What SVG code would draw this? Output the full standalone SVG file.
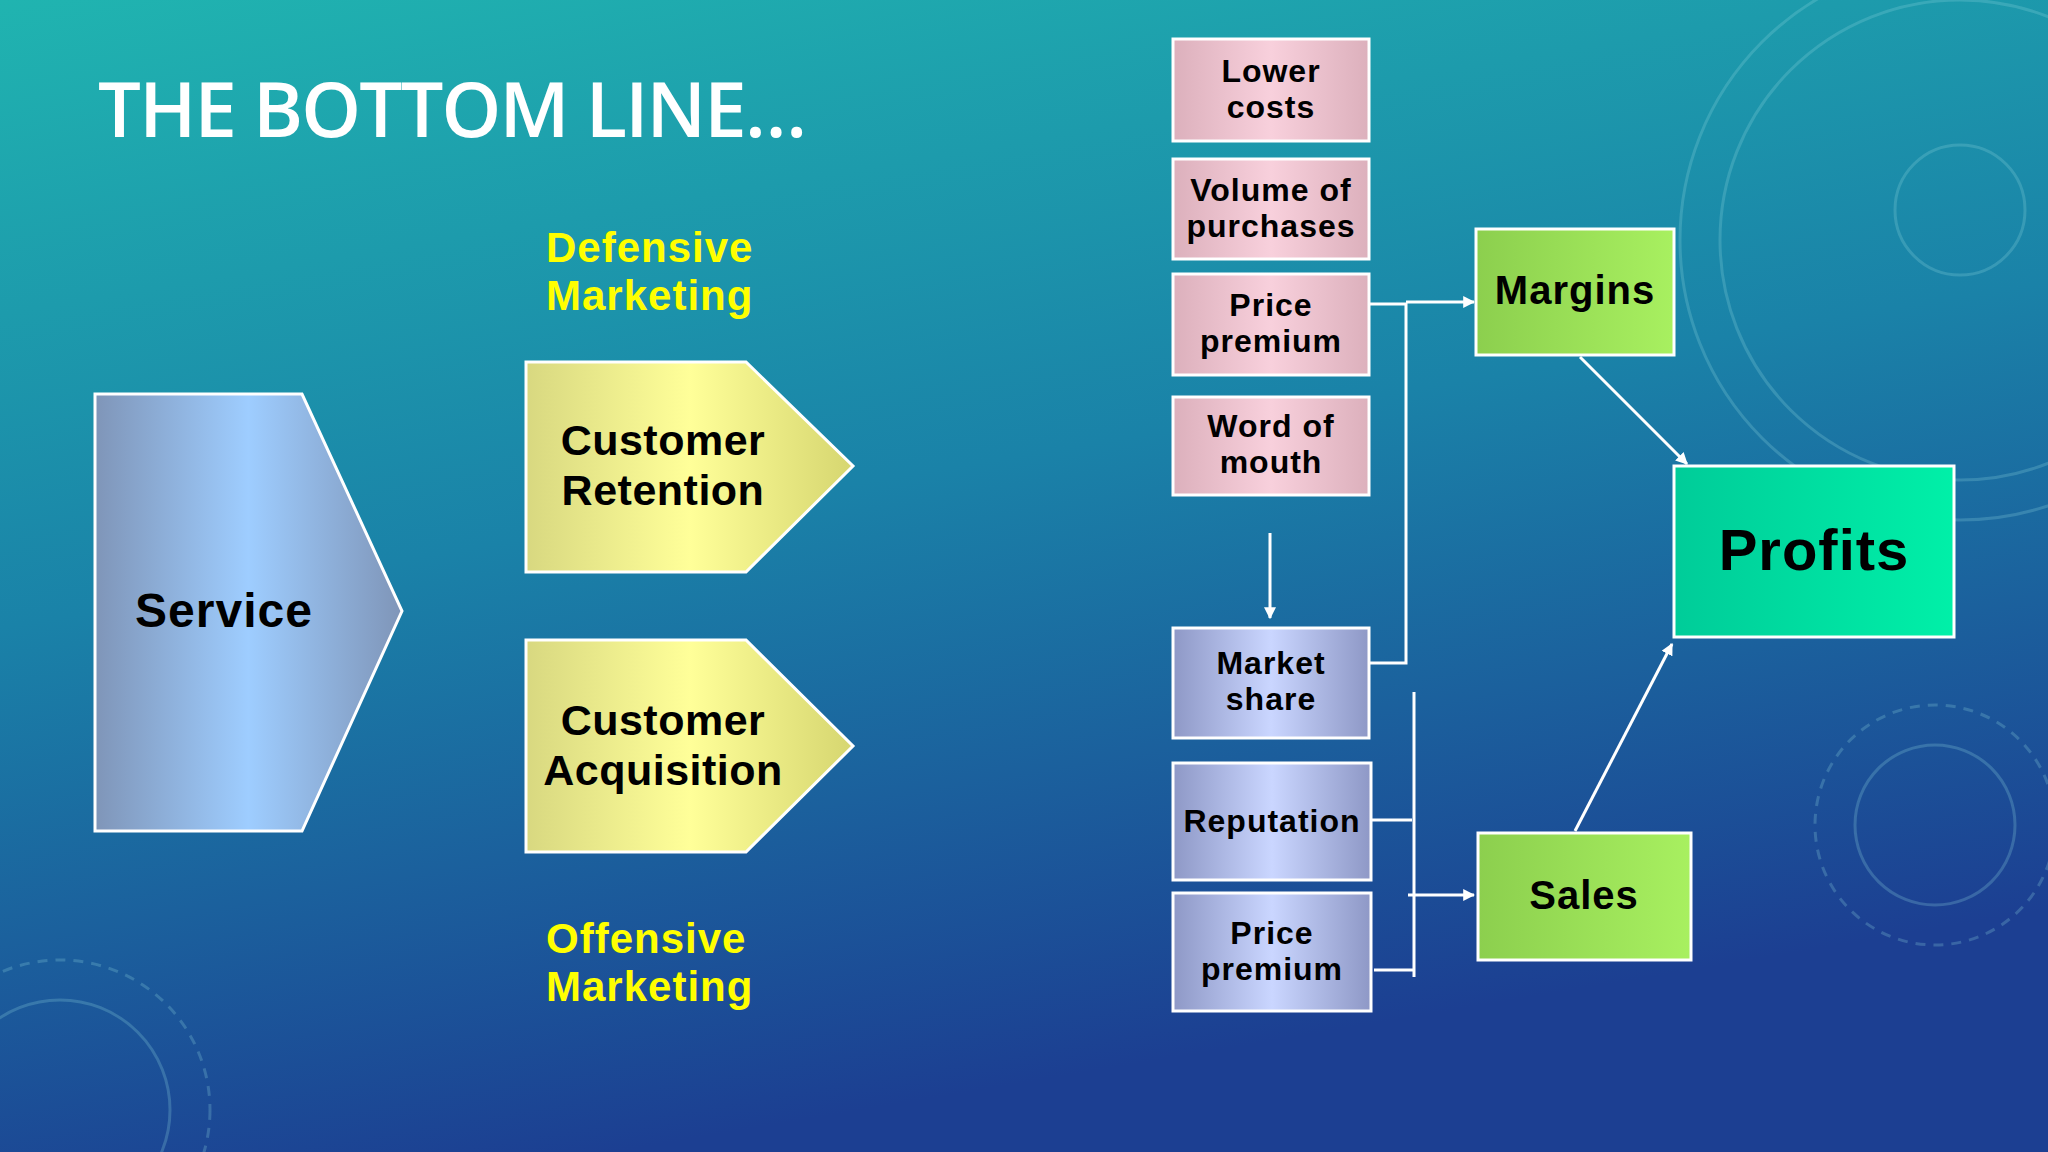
<svg xmlns="http://www.w3.org/2000/svg" width="2048" height="1152" viewBox="0 0 2048 1152">
<defs>
<linearGradient id="bg" x1="0" y1="0" x2="0.3" y2="1"><stop offset="0" stop-color="#20b4b0"/><stop offset="0.5" stop-color="#1a82a8"/><stop offset="1" stop-color="#1c3f92"/></linearGradient>
<linearGradient id="svc" x1="0" x2="1"><stop offset="0" stop-color="#7f95b8"/><stop offset="0.5" stop-color="#9ecdff"/><stop offset="1" stop-color="#7f95b8"/></linearGradient>
<linearGradient id="yel" x1="0" x2="1"><stop offset="0" stop-color="#d8d880"/><stop offset="0.5" stop-color="#ffff99"/><stop offset="1" stop-color="#d6d670"/></linearGradient>
<linearGradient id="pink" x1="0" x2="1"><stop offset="0" stop-color="#dcb0bc"/><stop offset="0.5" stop-color="#f8d0dc"/><stop offset="1" stop-color="#dcb0bc"/></linearGradient>
<linearGradient id="blue" x1="0" x2="1"><stop offset="0" stop-color="#8e98c6"/><stop offset="0.5" stop-color="#cad6ff"/><stop offset="1" stop-color="#8e98c6"/></linearGradient>
<linearGradient id="grn" x1="0" x2="1"><stop offset="0" stop-color="#8ccf4e"/><stop offset="1" stop-color="#a8f060"/></linearGradient>
<linearGradient id="prf" x1="0" x2="1"><stop offset="0" stop-color="#00cc99"/><stop offset="1" stop-color="#00f0a8"/></linearGradient>
<marker id="ah" viewBox="0 0 10 10" refX="9" refY="5" markerWidth="4" markerHeight="4" orient="auto"><path d="M0,0L10,5L0,10z" fill="#fff"/></marker>
</defs>
<style>
.b{stroke:#fff;stroke-width:3}
.t{font-family:"Liberation Sans",Arial,sans-serif;font-weight:bold;fill:#000;text-anchor:middle}
.s{font-size:32px;letter-spacing:1px}
.y{font-family:"Liberation Sans",Arial,sans-serif;font-weight:bold;fill:#ffff00;font-size:42px;letter-spacing:1px}
.c{stroke:#fff;stroke-width:3;fill:none}
</style>
<rect width="2048" height="1152" fill="url(#bg)"/>
<g fill="none" stroke="#8fd8e0" stroke-opacity="0.25" stroke-width="3">
<circle cx="1960" cy="240" r="280"/><circle cx="1960" cy="240" r="240"/><circle cx="1960" cy="210" r="65"/>
<circle cx="1935" cy="825" r="80"/><circle cx="1935" cy="825" r="120" stroke-dasharray="10 8"/>
<circle cx="60" cy="1110" r="110"/><circle cx="60" cy="1110" r="150" stroke-dasharray="10 8"/>
</g>
<text x="98" y="137" font-family="Open Sans,Liberation Sans,sans-serif" font-weight="600" font-size="76" fill="#fff" textLength="709">THE BOTTOM LINE…</text>
<text class="y"><tspan x="546" y="262">Defensive</tspan><tspan x="546" y="310">Marketing</tspan></text>
<text class="y"><tspan x="546" y="953">Offensive</tspan><tspan x="546" y="1001">Marketing</tspan></text>
<g id="service"><path class="b" d="M95,394H302L402,611L302,831H95Z" fill="url(#svc)"/><text class="t" x="224" y="627" font-size="48" letter-spacing="1">Service</text></g>
<g id="retention"><path class="b" d="M526,362H746L853,466L746,572H526Z" fill="url(#yel)"/><text class="t" font-size="43" letter-spacing="0.5"><tspan x="663" y="455">Customer</tspan><tspan x="663" y="505">Retention</tspan></text></g>
<g id="acquisition"><path class="b" d="M526,640H746L853,746L746,852H526Z" fill="url(#yel)"/><text class="t" font-size="43" letter-spacing="0.5"><tspan x="663" y="735">Customer</tspan><tspan x="663" y="785">Acquisition</tspan></text></g>
<g id="lower"><rect class="b" x="1173" y="39" width="196" height="102" fill="url(#pink)"/><text class="t s"><tspan x="1271" y="82">Lower</tspan><tspan x="1271" y="118">costs</tspan></text></g>
<g id="volume"><rect class="b" x="1173" y="159" width="196" height="100" fill="url(#pink)"/><text class="t s"><tspan x="1271" y="201">Volume of</tspan><tspan x="1271" y="237">purchases</tspan></text></g>
<g id="price1"><rect class="b" x="1173" y="274" width="196" height="101" fill="url(#pink)"/><text class="t s"><tspan x="1271" y="316">Price</tspan><tspan x="1271" y="352">premium</tspan></text></g>
<g id="word"><rect class="b" x="1173" y="397" width="196" height="98" fill="url(#pink)"/><text class="t s"><tspan x="1271" y="437">Word of</tspan><tspan x="1271" y="473">mouth</tspan></text></g>
<g id="market"><rect class="b" x="1173" y="628" width="196" height="110" fill="url(#blue)"/><text class="t s"><tspan x="1271" y="674">Market</tspan><tspan x="1271" y="710">share</tspan></text></g>
<g id="reputation"><rect class="b" x="1173" y="763" width="198" height="117" fill="url(#blue)"/><text class="t s" x="1272" y="832">Reputation</text></g>
<g id="price2"><rect class="b" x="1173" y="893" width="198" height="118" fill="url(#blue)"/><text class="t s"><tspan x="1272" y="944">Price</tspan><tspan x="1272" y="980">premium</tspan></text></g>
<g id="margins"><rect class="b" x="1476" y="229" width="198" height="126" fill="url(#grn)"/><text class="t" x="1575" y="304" font-size="40" letter-spacing="1">Margins</text></g>
<g id="profits"><rect class="b" x="1674" y="466" width="280" height="171" fill="url(#prf)"/><text class="t" x="1814" y="570" font-size="58" letter-spacing="1">Profits</text></g>
<g id="sales"><rect class="b" x="1478" y="833" width="213" height="127" fill="url(#grn)"/><text class="t" x="1584" y="909" font-size="40" letter-spacing="1">Sales</text></g>
<g id="connectors">
<path class="c" d="M1270,533V618" marker-end="url(#ah)"/>
<path class="c" d="M1369,304H1406V663H1369"/>
<path class="c" d="M1406,302H1474" marker-end="url(#ah)"/>
<path class="c" d="M1414,692V977"/>
<path class="c" d="M1371,820H1412M1374,970H1414"/>
<path class="c" d="M1408,895H1474" marker-end="url(#ah)"/>
<path class="c" d="M1580,357L1687,464" marker-end="url(#ah)"/>
<path class="c" d="M1575,831L1672,644" marker-end="url(#ah)"/>
</g>
</svg>
